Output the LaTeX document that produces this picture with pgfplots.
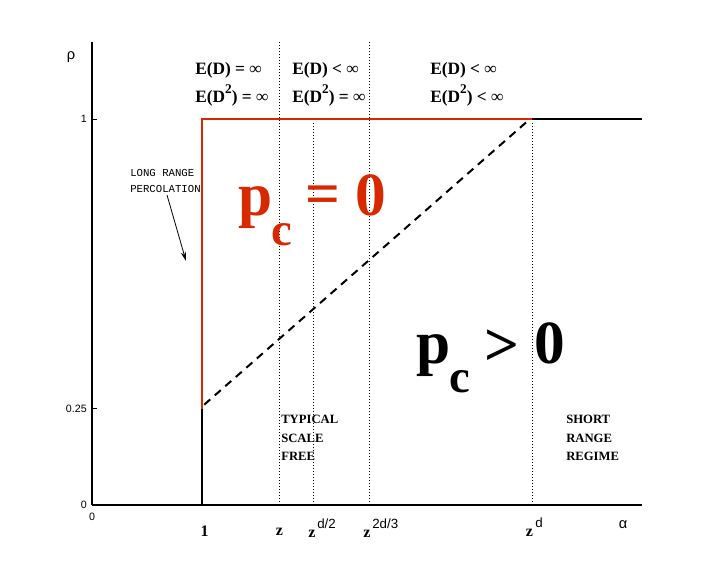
\documentclass[border=0pt]{standalone}
\usepackage{pgfplots}
\pgfplotsset{compat=1.18}
\usepackage{fontspec}
\setmainfont{Liberation Serif}
\setsansfont{Liberation Sans}
\setmonofont{Liberation Mono}
\usetikzlibrary{arrows.meta}
\definecolor{pred}{RGB}{216,40,0}
\begin{document}
\begin{tikzpicture}
\useasboundingbox (-69pt,-48pt) rectangle (462.75pt,378.75pt);
\begin{axis}[
  at={(0,0)}, anchor=south west,
  scale only axis, width=412.5pt, height=347.25pt,
  xmin=0, xmax=5, ymin=0, ymax=1.2,
  axis lines*=left,
  axis line style={line width=1.1pt, black},
  xtick={0}, xticklabels={0},
  ytick={0,0.25,1}, yticklabels={0,0.25,1},
  tick align=inside,
  major tick length=3.75pt,
  tick style={black, line width=0.8pt},
  x tick label style={font=\sffamily\fontsize{8}{9}\selectfont, inner sep=0pt},
  y tick label style={font=\sffamily\fontsize{8}{9}\selectfont, inner sep=0pt},
  xticklabel shift=6pt,
  yticklabel shift=3.75pt,
  clip=false,
]
% dotted guides
\addplot[black, line width=0.75pt, dash pattern=on 0.75pt off 1.5pt] coordinates {(1.7,0) (1.7,1.2)};
\addplot[black, line width=0.75pt, dash pattern=on 0.75pt off 1.5pt] coordinates {(2.01,0) (2.01,0.99)};
\addplot[black, line width=0.75pt, dash pattern=on 0.75pt off 1.5pt] coordinates {(2.52,0) (2.52,1.2)};
\addplot[black, line width=0.75pt, dash pattern=on 0.75pt off 1.5pt] coordinates {(4,0) (4,0.99)};
% boundaries
\addplot[black, line width=1.5pt] coordinates {(1,0) (1,0.25)};
\addplot[pred, line width=1.5pt] coordinates {(1,0.25) (1,1) (4,1)};
\addplot[black, line width=1.5pt] coordinates {(4,1) (5,1)};
\addplot[black, line width=1.5pt, dash pattern=on 6pt off 4.5pt] coordinates {(1.02,0.26) (3.98,1)};
\end{axis}
\begin{scope}[x=0.75pt, y=0.75pt]
% top annotations
\begin{scope}[every node/.style={anchor=base west, inner sep=0pt, font=\fontsize{13}{15}\selectfont\bfseries}]
\node at (195-92, 505-74) {E(D) = ∞};
\node at (195-92, 505-102) {E(D\raisebox{6pt}{\fontsize{10}{12}\selectfont 2}) = ∞};
\node at (292-92, 505-74) {E(D) < ∞};
\node at (292-92, 505-102) {E(D\raisebox{6pt}{\fontsize{10}{12}\selectfont 2}) = ∞};
\node at (430-92, 505-74) {E(D) < ∞};
\node at (430-92, 505-102) {E(D\raisebox{6pt}{\fontsize{10}{12}\selectfont 2}) < ∞};
\end{scope}
% p_c = 0
\node[anchor=base west, inner sep=0pt, text=pred, font=\fontsize{46}{50}\selectfont\bfseries] at (238-92, 505-215) {p};
\node[anchor=base west, inner sep=0pt, text=pred, font=\fontsize{35}{40}\selectfont\bfseries] at (271-92, 505-245) {c};
\node[inner sep=0pt, text=pred, font=\fontsize{46}{50}\selectfont\bfseries] at (323-92, 505-200) {=};
\node[anchor=base west, inner sep=0pt, text=pred, font=\fontsize{46}{50}\selectfont\bfseries] at (355-92, 505-215) {0};
% p_c > 0
\node[anchor=base west, inner sep=0pt, font=\fontsize{46}{50}\selectfont\bfseries] at (416-92, 505-363) {p};
\node[anchor=base west, inner sep=0pt, font=\fontsize{35}{40}\selectfont\bfseries] at (449-92, 505-392) {c};
\node[inner sep=0pt, font=\fontsize{46}{50}\selectfont\bfseries] at (502-92, 505-347.5) {>};
\node[anchor=base west, inner sep=0pt, font=\fontsize{46}{50}\selectfont\bfseries] at (534-92, 505-363) {0};
% region labels
\begin{scope}[every node/.style={anchor=base west, inner sep=0pt, font=\fontsize{9.5}{12}\selectfont\bfseries}]
\node at (281-92, 505-423) {TYPICAL};
\node at (281-92, 505-442) {SCALE};
\node at (281-92, 505-460) {FREE};
\node at (566-92, 505-423) {SHORT};
\node at (566-92, 505-442) {RANGE};
\node at (566-92, 505-460) {REGIME};
\end{scope}
\node[anchor=base west, inner sep=0pt, font=\ttfamily\fontsize{8}{10}\selectfont] at (130-92, 505-176) {LONG RANGE};
\node[anchor=base west, inner sep=0pt, font=\ttfamily\fontsize{8}{10}\selectfont] at (130-92, 505-192) {PERCOLATION};
\draw[black, line width=0.6pt, -{Stealth[length=7pt, width=4pt]}] (167-92, 505-195) -- (186-92, 505-261);
% x labels
\node[anchor=base, inner sep=0pt, font=\fontsize{12}{14}\selectfont\bfseries] at (204.5-92, 505-536) {1};
\node[anchor=base, inner sep=0pt, font=\fontsize{12}{14}\selectfont\bfseries] at (279.5-92, 505-535) {z};
\node[anchor=base, inner sep=0pt, font=\fontsize{12}{14}\selectfont\bfseries] at (312-92, 505-537) {z};
\node[anchor=base west, inner sep=0pt, font=\sffamily\fontsize{10}{12}\selectfont] at (317-92, 505-528) {d/2};
\node[anchor=base, inner sep=0pt, font=\fontsize{12}{14}\selectfont\bfseries] at (367-92, 505-537) {z};
\node[anchor=base west, inner sep=0pt, font=\sffamily\fontsize{10}{12}\selectfont] at (372-92, 505-528) {2d/3};
\node[anchor=base, inner sep=0pt, font=\fontsize{12}{14}\selectfont\bfseries] at (529.5-92, 505-536) {z};
\node[anchor=base west, inner sep=0pt, font=\sffamily\fontsize{10}{12}\selectfont] at (535-92, 505-527) {d};
\node[inner sep=0pt, font=\sffamily\fontsize{11}{12}\selectfont] at (623-92, 505-525) {α};
\node[inner sep=0pt, font=\sffamily\fontsize{11}{12}\selectfont] at (71-92, 505-57) {ρ};
\end{scope}
\end{tikzpicture}
\end{document}
